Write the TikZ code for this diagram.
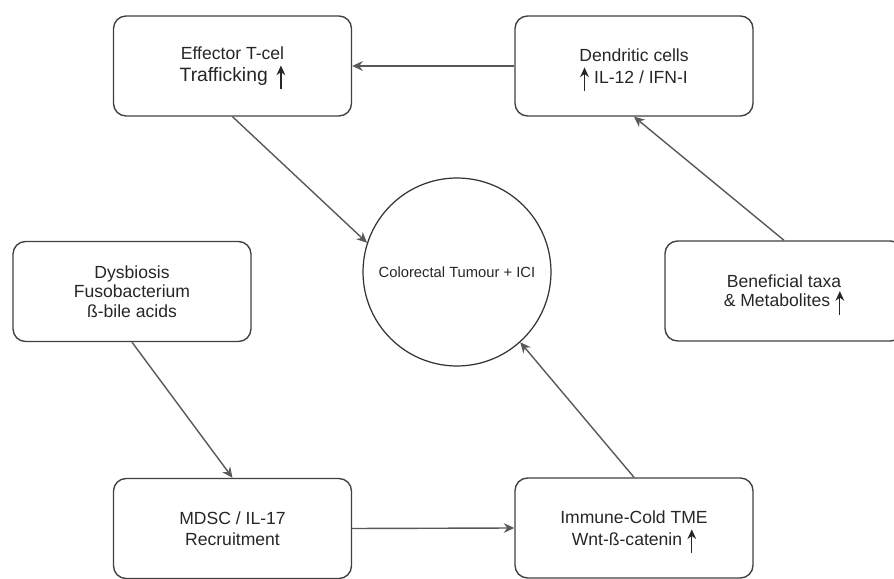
\documentclass[tikz,border=0pt]{standalone}
\usepackage{fontspec}
\setmainfont{Liberation Sans}
\usetikzlibrary{arrows.meta}

% small upward arrow used inside the labels
\newcommand{\uparr}{\smash{\tikz[baseline=0pt]\draw[line width=0.7pt, -{Stealth[length=5.5pt, width=5pt]}] (0,-4.5pt) -- (0,9pt);}}

\begin{document}
\begin{tikzpicture}[x=0.02cm, y=0.02cm,
  box/.style={draw=black!75, line width=0.8pt, rounded corners=0.25cm,
    minimum width=4.76cm, minimum height=2cm, align=center, text=black!85,
    font=\fontsize{10}{11}\selectfont},
  tumour/.style={draw=black!80, line width=0.7pt, circle, minimum size=3.76cm,
    text=black!85, font=\fontsize{8.4}{10}\selectfont},
  link/.style={draw=black!65, line width=0.8pt, -{Stealth[length=6pt, width=5.5pt]}}]
  \useasboundingbox (0,0) rectangle (894,579);

  % centre
  \node[tumour] (tum) at (457, 307) {Colorectal Tumour + ICI};

  % boxes round it
  \node[box] (eff)   at (232.5, 513) {Effector T-cel\\[1.5pt]{\fontsize{11}{11}\selectfont Trafficking}\hspace{5pt}\uparr};
  \node[box] (dc)    at (634, 513)   {Dendritic cells\\[1.5pt]\uparr\hspace{3pt}IL-12 / IFN-I};
  \node[box] (dys)   at (132, 287.5) {Dysbiosis\\Fusobacterium\\ß-bile acids};
  \node[box] (ben)   at (784, 288)   {Beneficial taxa\\\& Metabolites\hspace{3pt}\uparr};
  \node[box] (mdsc)  at (232.5, 50.5) {MDSC / IL-17\\[1pt]Recruitment};
  \node[box] (icold) at (634, 51)    {Immune-Cold TME\\[1.5pt]Wnt-ß-catenin\hspace{3pt}\uparr};

  % connectors
  \draw[link] (dc.west) -- (eff.east);
  \draw[link] (ben.north) -- (dc.south);
  \draw[link] (eff.south) -- (tum.162);
  \draw[link] (dys.south) -- (mdsc.north);
  \draw[link] (mdsc.east) -- (icold.west);
  \draw[link] (icold.north) -- (tum.-48);
\end{tikzpicture}
\end{document}
